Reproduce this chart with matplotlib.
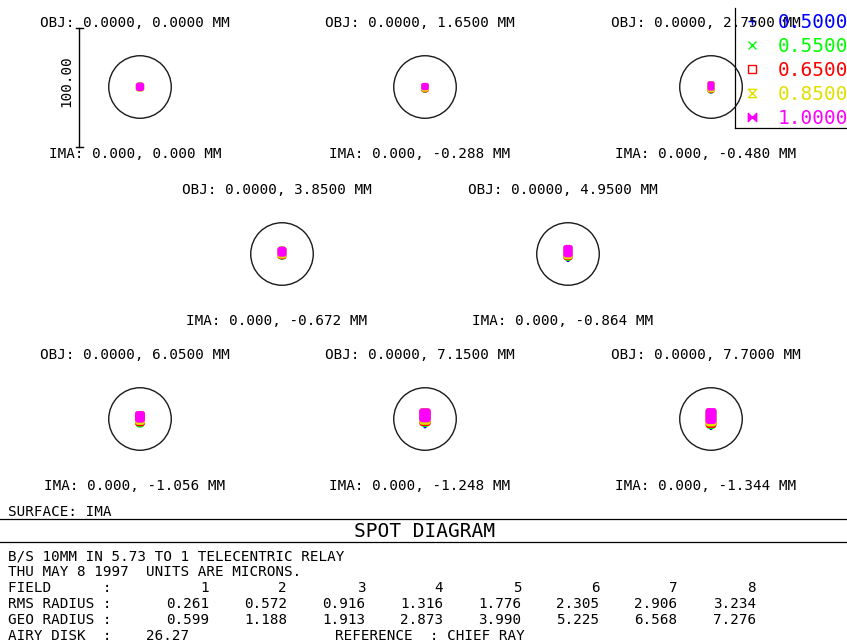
import matplotlib
matplotlib.use("Agg")
import matplotlib.pyplot as plt
from matplotlib.patches import Circle, FancyBboxPatch
from matplotlib.path import Path

# figure size in pixels
W, H = 847, 644

# wavelengths (microns) and their plot colours
wavelengths = [0.5000, 0.5500, 0.6500, 0.8500, 1.0000]
wave_colors = ["#0000ff", "#00ff00", "#ff0000", "#e0e000", "#ff00ff"]

# fields
field_num = [1, 2, 3, 4, 5, 6, 7, 8]
obj_y = [0.0000, 1.6500, 2.7500, 3.8500, 4.9500, 6.0500, 7.1500, 7.7000]
ima_y = [0.000, -0.288, -0.480, -0.672, -0.864, -1.056, -1.248, -1.344]
rms_radius = [0.261, 0.572, 0.916, 1.316, 1.776, 2.305, 2.906, 3.234]
geo_radius = [0.599, 1.188, 1.913, 2.873, 3.990, 5.225, 6.568, 7.276]
airy_radius = 26.27
scale_bar = 100.0

# drawn spot footprints (microns, relative to chief ray), per field, per wavelength
spot_top = [3.6, 3.4, 4.8, 6.1, 7.6, 6.7, 9.0, 9.2]
spot_halfw = [
    [2.9, 3.2, 3.4, 3.7, 3.5],
    [1.7, 2.5, 3.2, 3.2, 3.2],
    [1.7, 2.5, 3.0, 3.0, 2.9],
    [1.7, 2.9, 3.8, 3.8, 3.8],
    [1.3, 2.9, 3.9, 3.9, 3.9],
    [1.7, 3.4, 4.2, 4.2, 4.2],
    [1.3, 3.8, 4.9, 4.9, 4.9],
    [1.3, 3.8, 4.6, 4.6, 4.6],
]
spot_bottom = [
    [3.4, 3.5, 3.6, 3.7, 3.4],
    [4.6, 4.6, 4.5, 4.0, 2.7],
    [5.5, 5.3, 5.0, 4.6, 3.1],
    [4.6, 4.6, 4.4, 3.8, 2.3],
    [6.7, 5.9, 5.2, 4.5, 2.8],
    [7.0, 7.0, 6.1, 5.0, 3.1],
    [7.8, 6.6, 5.9, 4.9, 2.8],
    [9.2, 8.4, 7.6, 6.3, 4.2],
]

# layout (pixels)
px_per_um = 1.19
centers = [(140, 87), (425, 87), (711, 87),
           (282, 254), (568, 254),
           (140, 419), (425, 419), (711, 419)]
FONT = "DejaVu Sans Mono"
fs = 10.3
fs_big = 14

fig = plt.figure(figsize=(W / 100, H / 100), dpi=100)
fig.patch.set_facecolor("white")

# overlay axes in pixel coordinates for text and frame lines
ov = fig.add_axes([0, 0, 1, 1])
ov.set_xlim(0, W)
ov.set_ylim(H, 0)
ov.axis("off")

hx, hy = 82, 66
diag_axes = []
for i, (cx, cy) in enumerate(centers):
    ax = fig.add_axes([(cx - hx) / W, 1 - (cy + hy) / H, 2 * hx / W, 2 * hy / H])
    ax.set_xlim(-hx / px_per_um, hx / px_per_um)
    ax.set_ylim(-hy / px_per_um, hy / px_per_um)
    ax.axis("off")
    ax.patch.set_alpha(0)
    ax.add_patch(Circle((0, 0), airy_radius, fill=False, lw=1.0, ec="#1a1a1a"))
    # spots: blue first, magenta on top
    for w in range(len(wavelengths)):
        hw = spot_halfw[i][w]
        top = spot_top[i]
        bot = spot_bottom[i][w]
        r = min(hw, (top + bot) / 2) * 0.6
        ax.add_patch(FancyBboxPatch((-hw, -bot), 2 * hw, top + bot,
                                    boxstyle=f"round,pad=0,rounding_size={r}",
                                    fc=wave_colors[w], ec="none"))
    diag_axes.append(ax)

    ov.text(cx - 5, cy - 60, f"OBJ: {0:.4f}, {obj_y[i]:.4f} MM",
            ha="center", va="baseline", fontsize=fs, family=FONT)
    ov.text(cx - 5, cy + 71, f"IMA: {0:.3f}, {ima_y[i]:.3f} MM",
            ha="center", va="baseline", fontsize=fs, family=FONT)

# scale bar on the first diagram
ax0 = diag_axes[0]
bx = -51.3
ax0.plot([bx, bx], [-scale_bar / 2, scale_bar / 2], color="black", lw=1.0,
         clip_on=False)
for yy in (-scale_bar / 2, scale_bar / 2):
    ax0.plot([bx - 2.8, bx + 3.0], [yy, yy], color="black", lw=1.0, clip_on=False)
ax0.text(-61.8, 5, f"{scale_bar:.2f}", rotation=90, ha="center", va="center",
         fontsize=fs, family=FONT, clip_on=False)

# legend box
ov.plot([735, 735], [8, 128], color="black", lw=0.9)
ov.plot([735, W], [128, 128], color="black", lw=0.9)
hourglass = Path([(-1, 1), (1, 1), (-1, -1), (1, -1), (-1, 1)],
                 [Path.MOVETO, Path.LINETO, Path.LINETO, Path.LINETO, Path.CLOSEPOLY])
bowtie = Path([(-1, 1), (-1, -1), (1, 1), (1, -1), (-1, 1)],
              [Path.MOVETO, Path.LINETO, Path.LINETO, Path.LINETO, Path.CLOSEPOLY])
legend_markers = [("+", "none"), ("x", "none"), ("s", "none"),
                  (hourglass, "none"), (bowtie, "full")]
for k, wl in enumerate(wavelengths):
    ly = 21 + 24 * k
    m, fill = legend_markers[k]
    col = wave_colors[k]
    ov.plot([751.5], [ly], marker=m, ms=6, mew=1.0, color=col,
            mfc=col if fill == "full" else "none", mec=col, linestyle="none")
    ov.text(778, ly + 7, f"{wl:.4f}", color=col, ha="left", va="baseline",
            fontsize=fs_big, family=FONT)

# bottom panel
ov.text(8, 516, "SURFACE: IMA", ha="left", va="baseline", fontsize=fs, family=FONT)
ov.plot([0, W], [518.5, 518.5], color="black", lw=0.9)
ov.text(425, 537, "SPOT DIAGRAM", ha="center", va="baseline", fontsize=fs_big,
        family=FONT)
ov.plot([0, W], [541.5, 541.5], color="black", lw=0.9)

ov.text(8, 560, "B/S 10MM IN 5.73 TO 1 TELECENTRIC RELAY", ha="left",
        va="baseline", fontsize=fs, family=FONT)
ov.text(8, 576, "THU MAY 8 1997  UNITS ARE MICRONS.", ha="left",
        va="baseline", fontsize=fs, family=FONT)
row_names = ["FIELD      :", "RMS RADIUS :", "GEO RADIUS :"]
row_vals = [[str(n) for n in field_num],
            [f"{v:.3f}" for v in rms_radius],
            [f"{v:.3f}" for v in geo_radius]]
for r, (name, vals) in enumerate(zip(row_names, row_vals)):
    yb = 592 + 16 * r
    ov.text(8, yb, name, ha="left", va="baseline", fontsize=fs, family=FONT)
    for c, v in enumerate(vals):
        ov.text(209 + 78.1 * c, yb, v, ha="right", va="baseline",
                fontsize=fs, family=FONT)
ov.text(8, 640, f"AIRY DISK  :    {airy_radius:.2f}", ha="left", va="baseline",
        fontsize=fs, family=FONT)
ov.text(335, 640, "REFERENCE  : CHIEF RAY", ha="left", va="baseline",
        fontsize=fs, family=FONT)

plt.savefig("out.png", dpi=100)
